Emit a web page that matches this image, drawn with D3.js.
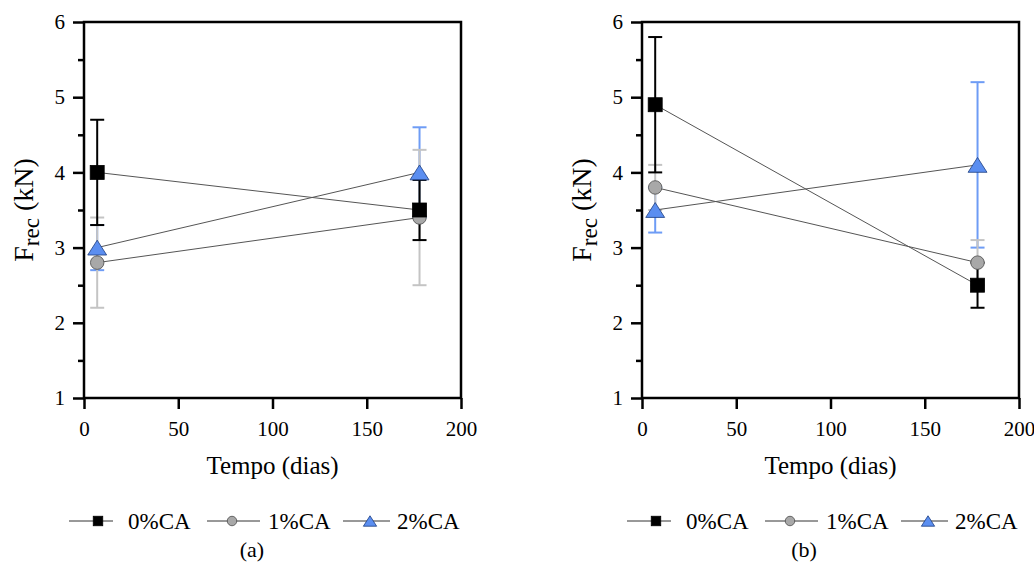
<!DOCTYPE html>
<html>
<head>
<meta charset="utf-8">
<script src="https://cdn.jsdelivr.net/npm/d3@7/dist/d3.min.js"></script>
<style>
  html, body { margin: 0; padding: 0; background: #fff; }
  svg { display: block; }
  svg text { font-family: "Times New Roman", "Liberation Serif", Tinos, "DejaVu Serif", serif !important; fill: #000; }
</style>
</head>
<body>
<svg id="chart" width="1034" height="565"></svg>
<script>
// ---- data ----
const times = [7, 178];
const seriesNames = ["0%CA", "1%CA", "2%CA"];
// panel (a)
const a_mean0 = [4.0, 3.5], a_err0 = [0.7, 0.4];
const a_mean1 = [2.8, 3.4], a_err1 = [0.6, 0.9];
const a_mean2 = [3.0, 4.0], a_err2 = [0.3, 0.6];
// panel (b)
const b_mean0 = [4.9, 2.5], b_err0 = [0.9, 0.3];
const b_mean1 = [3.8, 2.8], b_err1 = [0.3, 0.3];
const b_mean2 = [3.5, 4.1], b_err2 = [0.3, 1.1];
const xTicks = [0, 50, 100, 150, 200];
const yTicks = [1, 2, 3, 4, 5, 6];
const yMinor = [1.5, 2.5, 3.5, 4.5, 5.5];
const captions = ["(a)", "(b)"];

const panels = [
  { left: 84, cap: captions[0], capX: 252,
    series: [
      { name: seriesNames[0], mean: a_mean0, err: a_err0 },
      { name: seriesNames[1], mean: a_mean1, err: a_err1 },
      { name: seriesNames[2], mean: a_mean2, err: a_err2 } ] },
  { left: 642, cap: captions[1], capX: 804,
    series: [
      { name: seriesNames[0], mean: b_mean0, err: b_err0 },
      { name: seriesNames[1], mean: b_mean1, err: b_err1 },
      { name: seriesNames[2], mean: b_mean2, err: b_err2 } ] }
];

const style = {
  "0%CA": { bar: "#000000", fill: "#000000", stroke: "#000000", shape: "square" },
  "1%CA": { bar: "#c4c4c4", fill: "#a8a8a8", stroke: "#4a4a4a", shape: "circle" },
  "2%CA": { bar: "#6e9cf5", fill: "#5b8ef0", stroke: "#1d3d80", shape: "triangle" }
};

const svg = d3.select("#chart");
const W = 377, plotTop = 22, plotBottom = 398;

function marker(g, shape, st, size) {
  const s = size;
  if (shape === "square") {
    return g.append("rect").attr("x", -s/2).attr("y", -s/2).attr("width", s).attr("height", s)
      .attr("fill", st.fill).attr("stroke", st.stroke).attr("stroke-width", 0.8);
  } else if (shape === "circle") {
    return g.append("circle").attr("r", s/2).attr("fill", st.fill)
      .attr("stroke", st.stroke).attr("stroke-width", 0.8);
  } else {
    const h = s * 0.55, w = s * 0.7;
    return g.append("path").attr("d", `M0,${-h} L${w},${h} L${-w},${h} Z`)
      .attr("fill", st.fill).attr("stroke", st.stroke).attr("stroke-width", 0.8);
  }
}

panels.forEach(p => {
  const x = d3.scaleLinear().domain([0, 200]).range([p.left, p.left + W]);
  const y = d3.scaleLinear().domain([1, 6]).range([plotBottom, plotTop]);
  const g = svg.append("g");

  // error bars: order blue, grey, black
  const barOrder = [p.series[2], p.series[1], p.series[0]];
  barOrder.forEach(s => {
    const st = style[s.name];
    times.forEach((t, i) => {
      const cx = x(t), y1 = y(s.mean[i] - s.err[i]), y2 = y(s.mean[i] + s.err[i]);
      g.append("line").attr("x1", cx).attr("x2", cx).attr("y1", y1).attr("y2", y2)
        .attr("stroke", st.bar).attr("stroke-width", 2);
      [y1, y2].forEach(yy => g.append("line").attr("x1", cx - 7).attr("x2", cx + 7)
        .attr("y1", yy).attr("y2", yy).attr("stroke", st.bar).attr("stroke-width", 2));
    });
  });

  // connecting lines
  const line = d3.line().x((d, i) => x(times[i])).y(d => y(d));
  p.series.forEach(s => {
    g.append("path").attr("d", line(s.mean)).attr("fill", "none")
      .attr("stroke", "#555").attr("stroke-width", 1);
  });

  // markers: triangle, circle, square
  barOrder.forEach(s => {
    const st = style[s.name];
    times.forEach((t, i) => {
      const mg = g.append("g").attr("transform", `translate(${x(t)},${y(s.mean[i])})`);
      const sz = st.shape === "square" ? 14 : 13.5;
      marker(mg, st.shape, st, sz);
    });
  });

  // axes
  const ax = d3.axisBottom(x).tickValues(xTicks).tickSize(11).tickPadding(12).tickFormat(d3.format("d"));
  const gx = svg.append("g").attr("transform", `translate(0,${plotBottom})`).call(ax);
  const ayMinor = d3.axisLeft(y).tickValues(yMinor).tickSize(6).tickFormat("");
  const gym = svg.append("g").attr("transform", `translate(${p.left},0)`).call(ayMinor);
  const ay = d3.axisLeft(y).tickValues(yTicks).tickSize(11).tickPadding(8).tickFormat(d3.format("d"));
  const gy = svg.append("g").attr("transform", `translate(${p.left},0)`).call(ay);
  [gx, gy, gym].forEach(gg => {
    gg.attr("font-family", null).attr("font-size", null);
    gg.select(".domain").remove();
    gg.selectAll(".tick line").attr("stroke", "#000").attr("stroke-width", 2.5);
    gg.selectAll(".tick text").attr("font-size", 21).attr("fill", "#000");
  });

  // frame
  svg.append("rect").attr("x", p.left).attr("y", plotTop).attr("width", W).attr("height", plotBottom - plotTop)
    .attr("fill", "none").attr("stroke", "#000").attr("stroke-width", 2.5);

  // axis titles
  svg.append("text").attr("x", p.left + W / 2).attr("y", 474).attr("text-anchor", "middle")
    .attr("font-size", 25).text("Tempo (dias)");
  const yl = svg.append("text").attr("transform", `translate(${p.left - 51},${(plotTop + plotBottom) / 2}) rotate(-90)`)
    .attr("text-anchor", "middle").attr("font-size", 28);
  yl.append("tspan").text("F");
  yl.append("tspan").attr("font-size", 23).attr("dy", 6).text("rec");
  yl.append("tspan").attr("dy", -6).text(" (kN)");

  // legend
  const L = p.left, ly = 521;
  const items = [
    { s: p.series[0], x0: L - 15, x1: L + 29, mx: L + 14, tx: L + 44 },
    { s: p.series[1], x0: L + 123, x1: L + 176, mx: L + 148, tx: L + 184 },
    { s: p.series[2], x0: L + 259, x1: L + 306, mx: L + 286, tx: L + 313 }
  ];
  items.forEach(it => {
    const st = style[it.s.name];
    svg.append("line").attr("x1", it.x0).attr("x2", it.x1).attr("y1", ly).attr("y2", ly)
      .attr("stroke", "#333").attr("stroke-width", 1);
    const mg = svg.append("g").attr("transform", `translate(${it.mx},${ly})`);
    marker(mg, st.shape, st, 9.5);
    svg.append("text").attr("x", it.tx).attr("y", ly).attr("dy", "0.35em")
      .attr("font-size", 23).text(it.s.name);
  });

  svg.append("text").attr("x", p.capX).attr("y", 549).attr("dy", "0.35em")
    .attr("text-anchor", "middle").attr("font-size", 22).text(p.cap);
});
</script>
</body>
</html>
